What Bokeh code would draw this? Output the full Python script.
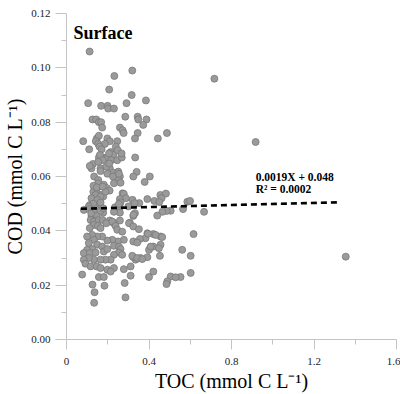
from bokeh.plotting import figure
from bokeh.models import FixedTicker, PrintfTickFormatter, Label, Range1d
from bokeh.embed import file_html
from bokeh.resources import INLINE

# TOC (x) and COD (y), mmol C L-1
toc = [
    0.112, 0.232, 0.319, 0.207, 0.316, 0.385, 0.105, 0.168, 0.199, 0.202, 0.230, 0.291,
    0.345, 0.348, 0.285, 0.388, 0.126, 0.144, 0.157, 0.168, 0.173, 0.259, 0.272, 0.277,
    0.372, 0.345, 0.332, 0.487, 0.443, 0.081, 0.147, 0.157, 0.198, 0.210, 0.142, 0.154,
    0.186, 0.246, 0.110, 0.160, 0.170, 0.239, 0.333, 0.157, 0.176, 0.198, 0.214, 0.228,
    0.217, 0.246, 0.268, 0.128, 0.121, 0.165, 0.210,
    0.162, 0.175, 0.206, 0.248, 0.267, 0.113, 0.154, 0.194, 0.207, 0.227, 0.251, 0.259,
    0.251, 0.134, 0.154, 0.159, 0.130, 0.149, 0.170, 0.178, 0.272, 0.320, 0.113, 0.154,
    0.137, 0.121, 0.146, 0.178, 0.235, 0.259, 0.300, 0.121, 0.210, 0.227, 0.259, 0.307,
    0.332, 0.340, 0.324,
    0.165, 0.198, 0.225, 0.254, 0.324, 0.379, 0.404, 0.154, 0.131, 0.147, 0.181, 0.196,
    0.209, 0.189, 0.175, 0.230, 0.262, 0.278, 0.288, 0.259, 0.141, 0.165, 0.121, 0.150,
    0.130, 0.165, 0.392, 0.426, 0.455, 0.482, 0.461, 0.450, 0.353, 0.330, 0.262, 0.254,
    0.586, 0.599, 0.565, 0.505, 0.485, 0.465, 0.440, 0.325, 0.259, 0.230, 0.108, 0.084,
    0.110, 0.120, 0.141, 0.165, 0.178, 0.667,
    0.117, 0.133, 0.157, 0.175, 0.133, 0.152, 0.113, 0.165, 0.193, 0.230, 0.222, 0.238,
    0.246, 0.270, 0.303, 0.324, 0.351, 0.392, 0.421, 0.456, 0.383, 0.324, 0.356, 0.278,
    0.249, 0.222, 0.198, 0.173, 0.149, 0.125, 0.100, 0.133, 0.108, 0.149, 0.173, 0.125,
    0.100, 0.084, 0.113, 0.141, 0.181, 0.198, 0.230, 0.254, 0.262, 0.254, 0.270, 0.230,
    0.214, 0.189, 0.165, 0.133, 0.108, 0.084, 0.092, 0.117, 0.146, 0.165, 0.198, 0.230,
    0.278, 0.311, 0.335, 0.324, 0.359, 0.392, 0.400, 0.421, 0.456, 0.453, 0.561, 0.602,
    0.616, 0.602, 0.553, 0.505, 0.489, 0.485, 0.400, 0.311, 0.282, 0.286, 0.184, 0.126,
    0.136, 0.134, 0.076, 0.157, 0.181, 0.214, 0.395, 0.432, 0.464, 0.343, 0.408, 0.448,
    0.319, 0.343, 0.367, 0.421, 0.529,
    0.717, 0.917, 1.354,
]
cod = [
    0.106, 0.097, 0.099, 0.092, 0.090, 0.088, 0.087, 0.086, 0.086, 0.085, 0.085, 0.087,
    0.082, 0.081, 0.082, 0.081, 0.081, 0.081, 0.080, 0.080, 0.078, 0.078, 0.077, 0.076,
    0.079, 0.076, 0.074, 0.076, 0.074, 0.073, 0.074, 0.075, 0.074, 0.073, 0.073, 0.072,
    0.072, 0.073, 0.070, 0.071, 0.070, 0.071, 0.067, 0.067, 0.067, 0.067, 0.069, 0.068,
    0.066, 0.066, 0.067, 0.0646, 0.063, 0.063, 0.063,
    0.0679, 0.066, 0.0685, 0.0697, 0.0685, 0.0639, 0.0654, 0.0636, 0.0648, 0.0614, 0.0618, 0.060,
    0.0587, 0.060, 0.0587, 0.0563, 0.0544, 0.0538, 0.0532, 0.0526, 0.0538, 0.0514, 0.0495, 0.049,
    0.0477, 0.0455, 0.0459, 0.0467, 0.0487, 0.0487, 0.049, 0.044, 0.0438, 0.043, 0.0438, 0.043,
    0.0465, 0.0617, 0.0455,
    0.062, 0.061, 0.060, 0.061, 0.060, 0.058, 0.060, 0.0575, 0.0566, 0.056, 0.057, 0.0557,
    0.0548, 0.0544, 0.0563, 0.0575, 0.0577, 0.0536, 0.052, 0.0517, 0.0532, 0.0526, 0.052, 0.0514,
    0.050, 0.0504, 0.0517, 0.051, 0.0532, 0.0537, 0.052, 0.0506, 0.0502, 0.0502, 0.0505, 0.0499,
    0.0507, 0.051, 0.048, 0.0474, 0.0473, 0.047, 0.0456, 0.0459, 0.0467, 0.047, 0.049, 0.0477,
    0.048, 0.0465, 0.048, 0.0474, 0.0483, 0.047,
    0.044, 0.0434, 0.044, 0.044, 0.0422, 0.0418, 0.041, 0.041, 0.0428, 0.0428, 0.0434, 0.0418,
    0.0404, 0.0397, 0.0428, 0.0416, 0.0406, 0.0391, 0.0388, 0.0379, 0.0373, 0.0361, 0.037, 0.0367,
    0.0361, 0.0367, 0.0364, 0.0379, 0.0379, 0.0385, 0.0379, 0.0367, 0.0355, 0.0349, 0.0342, 0.0333,
    0.033, 0.0318, 0.0318, 0.032, 0.0324, 0.0333, 0.0345, 0.0342, 0.0333, 0.032, 0.0312, 0.0312,
    0.0294, 0.0294, 0.0294, 0.0294, 0.030, 0.0294, 0.0279, 0.0269, 0.0269, 0.0263, 0.0257, 0.0263,
    0.0259, 0.0269, 0.0294, 0.0303, 0.030, 0.0303, 0.033, 0.0342, 0.0349, 0.0308, 0.033, 0.0308,
    0.0388, 0.0245, 0.023, 0.0232, 0.0214, 0.0204, 0.023, 0.0235, 0.0208, 0.0155, 0.0198, 0.0202,
    0.0174, 0.0135, 0.0239, 0.023, 0.023, 0.025, 0.0389, 0.0385, 0.0377, 0.0357, 0.0342, 0.0336,
    0.0308, 0.030, 0.0296, 0.025, 0.0229,
    0.096, 0.0727, 0.0305,
]

# linear fit shown on the chart
slope = 0.0019
intercept = 0.048
fit_x = [0.07, 1.33]
fit_y = [slope * v + intercept for v in fit_x]

x_ticks = [0, 0.4, 0.8, 1.2, 1.6]
x_minor = [0.2, 0.6, 1.0, 1.4]
y_ticks = [0.0, 0.02, 0.04, 0.06, 0.08, 0.10, 0.12]
y_minor = [0.01, 0.03, 0.05, 0.07, 0.09, 0.11]

SERIF = "Liberation Serif"

p = figure(width=400, height=394, output_backend="svg", toolbar_location=None,
           x_range=Range1d(0, 1.6), y_range=Range1d(0, 0.12),
           min_border_left=66, min_border_right=4, min_border_top=13, min_border_bottom=54)
p.outline_line_color = None
p.grid.grid_line_color = None
p.background_fill_color = "white"
p.border_fill_color = "white"

p.scatter(toc, cod, size=7, fill_color="#9a9a9a", line_color="#7a7a7a", line_width=0.8)
p.line(fit_x, fit_y, line_color="black", line_width=2.6, line_dash="6 4")

for ax in (p.xaxis[0], p.yaxis[0]):
    ax.axis_line_color = "#c4c4c4"
    ax.major_tick_line_color = "#c4c4c4"
    ax.minor_tick_line_color = "#c4c4c4"
    ax.major_tick_in = 0
    ax.minor_tick_in = 0
    ax.major_label_text_font = SERIF
    ax.major_label_text_font_size = "11px"
    ax.major_label_text_color = "#222222"
    ax.axis_label_text_font = SERIF
    ax.axis_label_text_font_size = "20px"
    ax.axis_label_text_font_style = "normal"
    ax.axis_label_text_color = "black"

p.xaxis.ticker = FixedTicker(ticks=x_ticks, minor_ticks=x_minor)
p.xaxis.major_label_overrides = {0: "0", 0.4: "0.4", 0.8: "0.8", 1.2: "1.2", 1.6: "1.6"}
p.xaxis.major_tick_out = 10
p.xaxis.minor_tick_out = 5
p.xaxis.major_label_standoff = 8
p.xaxis.axis_label = "TOC (mmol C L\u207b\u00b9)"
p.xaxis.axis_label_standoff = 2

p.yaxis.ticker = FixedTicker(ticks=y_ticks, minor_ticks=y_minor)
p.yaxis.formatter = PrintfTickFormatter(format="%.2f")
p.yaxis.major_tick_out = 11
p.yaxis.minor_tick_out = 5
p.yaxis.major_label_standoff = 5
p.yaxis.axis_label = "COD (mmol C L\u207b\u00b9)"
p.yaxis.axis_label_standoff = 2

p.add_layout(Label(x=0.034, y=0.1127, text="Surface", text_font=SERIF,
                   text_font_size="18px", text_font_style="bold", text_color="black",
                   text_baseline="alphabetic"))
p.add_layout(Label(x=0.917, y=0.0598, text="0.0019X + 0.048", text_font=SERIF,
                   text_font_size="11.5px", text_font_style="bold", text_color="black",
                   text_baseline="alphabetic"))
p.add_layout(Label(x=0.917, y=0.0554, text="R\u00b2 = 0.0002", text_font=SERIF,
                   text_font_size="11.5px", text_font_style="bold", text_color="black",
                   text_baseline="alphabetic"))

open("out.html", "w").write(file_html(p, INLINE))
